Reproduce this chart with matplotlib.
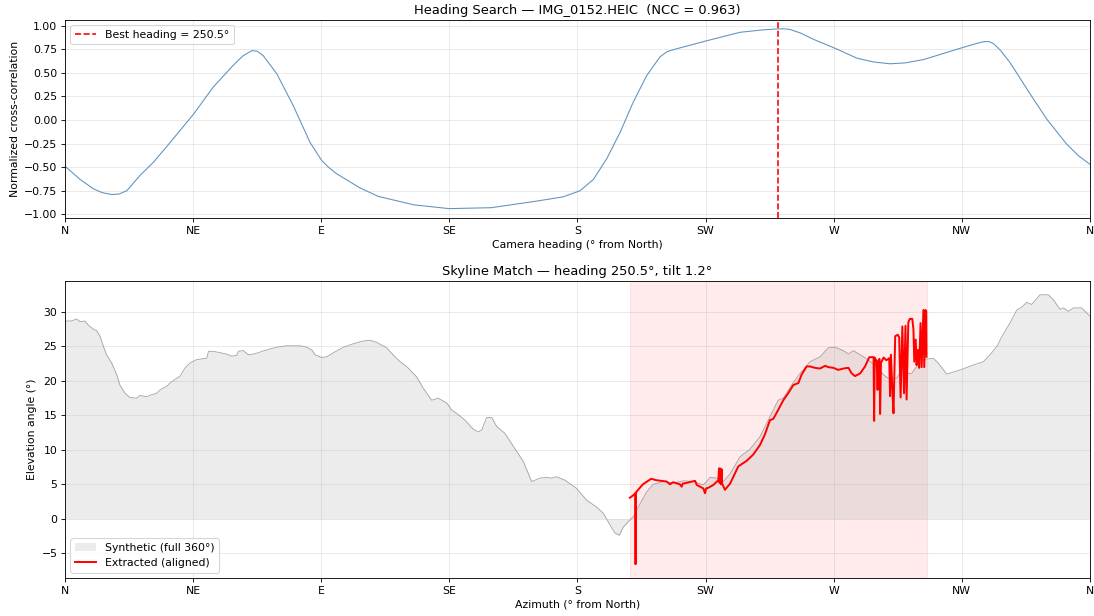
import matplotlib
matplotlib.use("Agg")
import matplotlib.pyplot as plt

# ---------------- data ----------------
compass_labels = ["N", "NE", "E", "SE", "S", "SW", "W", "NW", "N"]
compass_ticks = [0, 45, 90, 135, 180, 225, 270, 315, 360]

best_heading = 250.5
ncc_best = 0.963
tilt = 1.2
fov_start = 198.3
fov_end = 302.7

heading_deg = [0, 5.3, 10, 13, 16.4, 19, 21.7, 26.3, 31, 36.9, 41, 45.1, 52.1, 59.1, 62.5,
               65.6, 67.5, 69.7, 74.4, 80.2, 86.1, 90.2, 92.5, 95.4, 103.6, 110, 122.6, 135,
               149.7, 165.7, 175, 180.9, 185.6, 190.3, 195, 199.6, 204.3, 209, 211.5, 214.8,
               225.4, 237.1, 245, 250, 252.5, 254.7, 258.5, 262.9, 270.5, 278.1, 284, 289.8,
               295, 301.5, 314.4, 320, 322.6, 324.5, 326.1, 328.5, 331.9, 338.9, 344.8, 351.8,
               356, 360]
ncc_values = [-0.49, -0.63, -0.73, -0.77, -0.79, -0.785, -0.75, -0.59, -0.45, -0.24, -0.09,
              0.06, 0.35, 0.58, 0.68, 0.735, 0.73, 0.68, 0.49, 0.15, -0.24, -0.43, -0.50,
              -0.57, -0.72, -0.81, -0.90, -0.94, -0.93, -0.86, -0.815, -0.75, -0.63, -0.41,
              -0.13, 0.19, 0.47, 0.67, 0.725, 0.755, 0.84, 0.93, 0.955, 0.965, 0.967, 0.96,
              0.92, 0.855, 0.76, 0.656, 0.615, 0.596, 0.605, 0.64, 0.76, 0.81, 0.83, 0.832,
              0.81, 0.74, 0.61, 0.28, 0.01, -0.255, -0.38, -0.47]

syn_az = [0, 2.3, 4.1, 5.3, 7.0, 8.2, 10.0, 11.1, 12.3, 13.5, 14.6, 16.4, 18.2, 19.3, 21.1,
          22.8, 25.2, 26.3, 28.7, 30.4, 32.2, 33.4, 35.7, 36.9, 38.6, 40.4, 42.2, 43.9, 46.3,
          49.8, 50.4, 52.1, 54.4, 56.8, 58.5, 60.3, 60.9, 62.6, 64.4, 66.2, 67.9, 70.8, 74.4,
          77.9, 82.6, 84.9, 86.7, 87.8, 90.2, 91.9, 94.3, 97.8, 101.3, 104.8, 107.1, 109.5,
          113.0, 115.9, 117.7, 120.0, 123.5, 125.9, 128.8, 131.1, 134.1, 135.8, 138.2, 140.5,
          143.4, 145.2, 146.4, 148.1, 149.9, 151.6, 154.5, 157.5, 161.0, 163.9, 166.8, 169.2,
          170.9, 172.7, 175.6, 179.7, 183.2, 186.7, 189.1, 191.4, 193.2, 194.7, 196.1, 197.9,
          199.6, 202.0, 204.3, 206.6, 210.2, 213.7, 217.2, 220.7, 224.2, 226.6, 228.9, 231.2,
          233.6, 237.1, 240.6, 244.1, 247.6, 250.5, 252.3, 255.2, 258.2, 261.7, 265.2, 268.1,
          270.5, 273.4, 275.2, 276.9, 279.3, 281.6, 283.4, 285.1, 287.4, 289.2, 292.1, 293.9,
          295.6, 297.4, 299.1, 301.5, 305.0, 306.7, 309.7, 314.4, 319.0, 322.6, 324.9, 327.3,
          329.0, 331.9, 334.3, 336.0, 337.8, 339.5, 342.5, 345.4, 347.1, 349.5, 350.7, 352.4,
          354.2, 357.1, 360.0]
syn_el = [28.7, 28.7, 29.0, 28.6, 28.7, 28.1, 27.5, 27.3, 26.5, 25.0, 23.8, 22.6, 20.9, 19.4,
          18.2, 17.6, 17.5, 17.9, 17.7, 18.0, 18.2, 18.7, 19.2, 19.7, 20.2, 20.7, 21.9, 22.6,
          23.1, 23.3, 24.3, 24.3, 24.1, 23.9, 23.6, 23.7, 24.3, 24.4, 23.8, 23.9, 24.1, 24.5,
          24.9, 25.1, 25.1, 24.9, 24.5, 23.8, 23.4, 23.5, 24.1, 24.9, 25.4, 25.8, 25.9, 25.6,
          24.8, 23.5, 22.8, 22.1, 20.6, 18.9, 17.2, 17.5, 16.8, 15.8, 15.1, 14.3, 13.0, 12.6,
          12.9, 14.7, 14.7, 13.4, 12.4, 10.5, 8.3, 5.4, 5.9, 6.0, 5.9, 6.1, 5.6, 4.4, 2.7, 1.7,
          0.8, -0.9, -2.1, -2.4, -1.2, -0.4, 0.3, 2.2, 3.9, 5.0, 5.4, 5.2, 5.5, 5.4, 4.9, 6.0,
          5.9, 5.4, 6.5, 9.0, 10.1, 11.9, 14.8, 17.2, 17.5, 19.4, 21.1, 22.8, 23.5, 24.8, 24.9,
          24.4, 23.9, 24.4, 23.8, 23.2, 22.6, 22.2, 20.9, 20.4, 20.4, 21.6, 21.1, 21.1, 22.1,
          23.1, 23.3, 22.6, 21.0, 21.6, 22.3, 22.8, 23.8, 25.0, 26.4, 28.4, 30.3, 30.7, 31.4,
          31.1, 32.5, 32.5, 31.8, 30.4, 30.6, 30.1, 30.6, 30.6, 29.4]

ext_az = [198.4, 199.6, 200.3, 200.4, 200.5, 201.3, 203.0, 205.9, 207.6, 209.4, 211.3, 212.5,
          213.6, 216.0, 216.6, 217.0, 218.3, 221.3, 221.9, 224.2, 224.8, 225.2, 226.0, 227.7,
          229.5, 229.7, 229.9, 230.1, 230.4, 230.6, 230.8, 231.8, 233.6, 236.5, 239.4, 241.7,
          244.1, 245.8, 247.6, 248.8, 250.5, 252.3, 254.0, 255.8, 257.6, 258.7, 260.5, 261.7,
          263.4, 265.2, 267.0, 268.1, 269.9, 271.6, 273.4, 275.2, 276.3, 277.5, 279.3, 281.0,
          282.5, 284.0, 284.2, 284.4, 285.1, 285.4, 285.7, 286.1, 286.3, 286.6, 287.5, 288.5,
          289.5, 289.8, 290.1, 290.7, 291.0, 291.6, 292.5, 293.0, 293.5, 294.1, 294.7, 295.2,
          295.6, 296.2, 296.7, 297.6, 298.0, 298.3, 298.8, 299.1, 299.6, 300.0, 300.5, 300.9,
          301.5, 301.8, 302.2, 302.5, 302.6]
ext_el = [3.05, 3.4, 3.7, -6.6, 3.8, 4.2, 5.0, 5.8, 5.6, 5.5, 5.4, 5.0, 5.3, 5.0, 4.65, 5.1,
          5.2, 5.5, 4.9, 4.4, 3.7, 4.4, 4.5, 4.9, 5.6, 7.3, 5.2, 7.3, 5.0, 7.2, 5.1, 4.2, 5.1,
          7.6, 8.4, 9.3, 10.7, 12.2, 14.3, 14.5, 15.8, 17.2, 18.2, 19.4, 19.7, 20.9, 22.1, 22.1,
          21.9, 21.8, 22.2, 22.0, 21.9, 21.6, 21.8, 21.9, 21.1, 20.7, 21.1, 22.1, 23.45, 23.45,
          14.2, 23.4, 22.8, 18.7, 23.0, 23.2, 15.2, 22.6, 23.4, 23.0, 23.3, 17.8, 23.8, 17.7,
          15.3, 26.5, 26.7, 26.3, 17.6, 27.9, 18.2, 28.0, 17.3, 28.5, 29.0, 29.0, 27.5, 22.8,
          26.0, 22.3, 24.5, 21.9, 28.4, 22.0, 30.3, 22.0, 30.3, 30.1, 23.5]

# ---------------- plot ----------------
DPI = 1094 / 14.0
fig = plt.figure(figsize=(14.0, 616 / DPI), dpi=DPI)
ax1 = fig.add_axes([0.0594, 0.646, 0.9369, 0.3215])
ax2 = fig.add_axes([0.0594, 0.0617, 0.9369, 0.4821])

ax1.plot(heading_deg, ncc_values, color="steelblue", lw=1.0, alpha=0.85)
ax1.axvline(best_heading, color="red", ls="--", lw=1.5,
            label=f"Best heading = {best_heading}°")
ax1.set_xlim(0, 360)
ax1.set_ylim(-1.04, 1.06)
ax1.set_xticks(compass_ticks)
ax1.set_xticklabels(compass_labels)
ax1.set_yticks([-1.0, -0.75, -0.5, -0.25, 0.0, 0.25, 0.5, 0.75, 1.0])
ax1.set_xlabel("Camera heading (° from North)")
ax1.set_ylabel("Normalized cross-correlation")
ax1.set_title(f"Heading Search — IMG_0152.HEIC  (NCC = {ncc_best:.3f})")
ax1.grid(True, alpha=0.3)
ax1.legend(loc="upper left")

ax2.axvspan(fov_start, fov_end, color="red", alpha=0.08)
ax2.fill_between(syn_az, 0, syn_el, color="gray", alpha=0.15, lw=0,
                 label="Synthetic (full 360°)")
ax2.plot(syn_az, syn_el, color="gray", lw=0.8, alpha=0.7)
ax2.plot(ext_az, ext_el, color="red", lw=1.8, label="Extracted (aligned)")
ax2.set_xlim(0, 360)
ax2.set_ylim(-8.6, 34.5)
ax2.set_xticks(compass_ticks)
ax2.set_xticklabels(compass_labels)
ax2.set_xlabel("Azimuth (° from North)")
ax2.set_ylabel("Elevation angle (°)")
ax2.set_title(f"Skyline Match — heading {best_heading}°, tilt {tilt}°")
ax2.grid(True, alpha=0.3)
ax2.legend(loc="lower left")

fig.savefig("out.png", dpi=DPI)
